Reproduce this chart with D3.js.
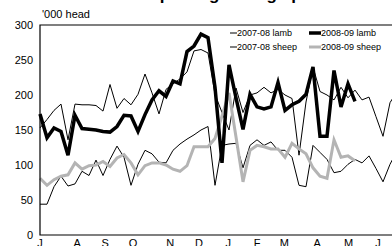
<!DOCTYPE html>
<html>
<head>
<meta charset="utf-8">
<script src="https://cdn.jsdelivr.net/npm/d3@7"></script>
<style>
  body { margin: 0; background: #fff; }
  svg { display: block; font-family: Arial, "Liberation Sans", Helvetica, sans-serif; }
</style>
</head>
<body>
<div id="chart"></div>
<script>
// weekly slaughterings, '000 head, week 0 = first week of July
const months = ["J", "A", "S", "O", "N", "D", "J", "F", "M", "A", "M", "J"];
const monthWeeks = [0, 5.3, 9.3, 13.3, 18.6, 22.7, 26.9, 31.0, 34.9, 39.6, 44.1, 48.3];

const lamb0708 = [153, 165, 178, 187, 136, 187, 186, 186, 185, 177, 215, 181, 195, 186, 201,
  230, 203, 173, 208, 216, 223, 233, 263, 265, 260, 201, 175, 150, 210, 175, 200,
  203, 211, 203, 208, 200, 195, 114, 190, 240, 205, 200, 193, 211, 196, 207, 193,
  197, 169, 141, 189, 205];
const lamb0809 = [173, 139, 153, 148, 114, 171, 152, 151, 150, 148, 147, 155, 171, 170, 148,
  172, 193, 206, 198, 220, 216, 262, 270, 287, 282, 211, 103, 243, 196, 151, 201,
  183, 180, 183, 218, 178, 186, 191, 201, 240, 141, 141, 235, 183, 216, 191];
const sheep0708 = [44, 44, 69, 84, 70, 73, 91, 85, 107, 85, 108, 127, 111, 71, 101,
  121, 116, 104, 103, 121, 130, 137, 143, 150, 155, 71, 128, 130, 131, 96, 128,
  136, 128, 133, 121, 121, 111, 71, 69, 128, 118, 108, 89, 91, 101, 108, 103,
  113, 95, 76, 101, 120];
const sheep0809 = [81, 71, 79, 84, 86, 103, 94, 99, 100, 105, 98, 110, 115, 103, 86,
  99, 103, 103, 100, 94, 91, 99, 126, 126, 126, 138, 170, 203, 140, 76, 121,
  128, 126, 123, 123, 111, 131, 123, 116, 96, 84, 81, 136, 111, 113, 106];

const yTicks = [0, 50, 100, 150, 200, 250, 300];

const series = [
  { name: "2007-08 lamb", values: lamb0708, color: "#000", width: 1 },
  { name: "2007-08 sheep", values: sheep0708, color: "#000", width: 1 },
  { name: "2008-09 sheep", values: sheep0809, color: "#b4b4b4", width: 3 },
  { name: "2008-09 lamb", values: lamb0809, color: "#000", width: 3.5 }
];

const W = 392, H = 246;
const margin = { top: 25, right: 0, bottom: 11, left: 40 };

const svg = d3.select("#chart").append("svg")
  .attr("width", W)
  .attr("height", H);

const x = d3.scaleLinear().domain([0, 50]).range([margin.left, margin.left + 350]);
const y = d3.scaleLinear().domain([0, 300]).range([H - margin.bottom, margin.top]);

// title, sits above the picture: only descenders show
svg.append("text")
  .attr("x", 200)
  .attr("y", 0)
  .attr("text-anchor", "middle")
  .style("font-size", "17px")
  .style("font-weight", "bold")
  .text("Lamb and sheep slaughterings per week");

svg.append("text")
  .attr("x", 42)
  .attr("y", 18)
  .style("font-size", "11px")
  .text("'000 head");

// y axis labels
svg.selectAll(".ylab")
  .data(yTicks)
  .enter().append("text")
  .attr("class", "ylab")
  .attr("x", 33)
  .attr("y", d => y(d))
  .attr("dy", "0.35em")
  .attr("text-anchor", "end")
  .style("font-size", "11px")
  .text(d => d);

// month labels
svg.selectAll(".xlab")
  .data(months)
  .enter().append("text")
  .attr("class", "xlab")
  .attr("x", (d, i) => x(monthWeeks[i]))
  .attr("y", H + 1)
  .attr("text-anchor", "middle")
  .style("font-size", "11px")
  .text(d => d);

const line = d3.line()
  .x((d, i) => x(i))
  .y(d => y(d));

const plot = svg.append("g");

plot.selectAll(".series")
  .data(series)
  .enter().append("path")
  .attr("class", "series")
  .attr("d", d => line(d.values))
  .attr("fill", "none")
  .attr("stroke", d => d.color)
  .attr("stroke-width", d => d.width)
  .attr("stroke-linejoin", "miter");

// frame: top, left and bottom
svg.append("path")
  .attr("d", `M${W},${y(300)}H${x(0)}V${y(0)}H${W}`)
  .attr("fill", "none")
  .attr("stroke", "#000")
  .attr("stroke-width", 1.2);

// legend
const legendItems = [
  { name: "2007-08 lamb", color: "#000", width: 1, lx: 230, ly: 33, len: 7 },
  { name: "2008-09 lamb", color: "#000", width: 3.5, lx: 309, ly: 33, len: 12 },
  { name: "2007-08 sheep", color: "#000", width: 1, lx: 230, ly: 47, len: 7 },
  { name: "2008-09 sheep", color: "#b4b4b4", width: 3, lx: 309, ly: 47, len: 12 }
];

const leg = svg.selectAll(".leg")
  .data(legendItems)
  .enter().append("g")
  .attr("class", "leg")
  .attr("transform", d => `translate(${d.lx},${d.ly})`);

leg.append("line")
  .attr("x1", 0)
  .attr("x2", d => d.len)
  .attr("stroke", d => d.color)
  .attr("stroke-width", d => d.width);

leg.append("text")
  .attr("x", d => d.len)
  .attr("dy", "0.35em")
  .style("font-size", "9px")
  .text(d => d.name);
</script>
</body>
</html>
